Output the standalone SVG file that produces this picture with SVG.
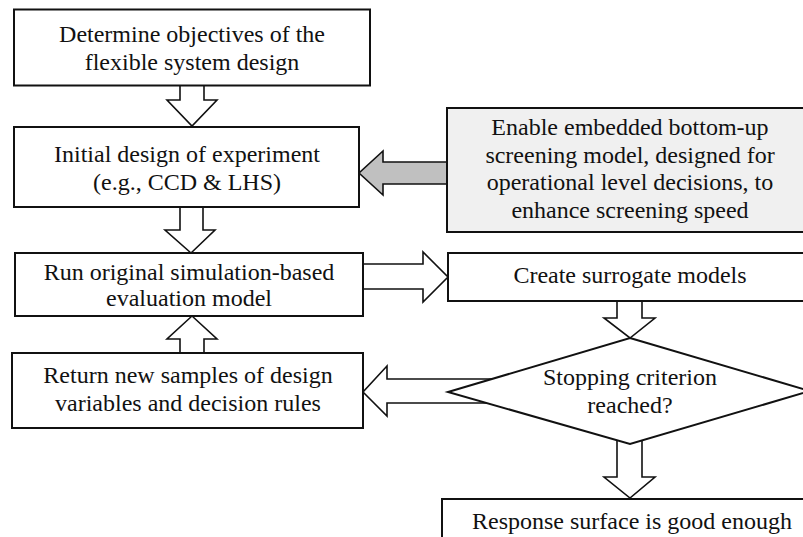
<svg xmlns="http://www.w3.org/2000/svg" width="803" height="537" viewBox="0 0 803 537">
  <style>
    .box { fill: #ffffff; stroke: #111111; stroke-width: 2; }
    .shade { fill: #f0f0f0; stroke: #111111; stroke-width: 2; }
    .arrow { fill: #ffffff; stroke: #111111; stroke-width: 1.6; stroke-linejoin: miter; }
    .garrow { fill: #c0c0c0; stroke: #111111; stroke-width: 1.6; }
    text { font-family: "Liberation Serif", "Times New Roman", serif; font-size: 24px; fill: #111111; text-anchor: middle; }
  </style>
  <rect width="803" height="537" fill="#ffffff"/>

  <!-- block arrows -->
  <g id="connectors">
    <polygon class="arrow" points="180,85 204,85 204,100 217,100 192,126 167,100 180,100"/>
    <polygon class="arrow" points="180,207 203,207 203,230 215,230 191,253 165,230 180,230"/>
    <polygon class="arrow" points="180,353 204,353 204,339 217,339 192,316 167,339 180,339"/>
    <polygon class="garrow" points="447,162 383,162 383,151 359,173 383,195 383,184 447,184"/>
    <polygon class="arrow" points="363,264 423,264 423,252 448,277 423,302 423,289 363,289"/>
    <polygon class="arrow" points="617,301 642,301 642,318 655,318 630,338 604,318 617,318"/>
    <polygon class="arrow" points="500,379 387,379 387,366 363,392 387,416 387,403 500,403"/>
    <polygon class="arrow" points="617,440 642,440 642,477 655,477 630,498 604,477 617,477"/>
  </g>

  <g id="objectives">
    <rect class="box" x="14" y="9.5" width="356" height="76"/>
    <text x="192" y="42">Determine objectives of the</text>
    <text x="192" y="69.5">flexible system design</text>
  </g>

  <g id="initial-doe">
    <rect class="box" x="14" y="127" width="345" height="80"/>
    <text x="187" y="162">Initial design of experiment</text>
    <text x="187" y="189.5">(e.g., CCD &amp; LHS)</text>
  </g>

  <g id="screening-model">
    <rect class="shade" x="447" y="108" width="370" height="124"/>
    <text x="630" y="135">Enable embedded bottom-up</text>
    <text x="630" y="162.5">screening model, designed for</text>
    <text x="630" y="190">operational level decisions, to</text>
    <text x="630" y="217.5">enhance screening speed</text>
  </g>

  <g id="run-simulation">
    <rect class="box" x="15" y="253" width="348" height="63"/>
    <text x="189" y="280">Run original simulation-based</text>
    <text x="189" y="306">evaluation model</text>
  </g>

  <g id="surrogate">
    <rect class="box" x="448" y="253" width="370" height="48"/>
    <text x="630" y="283">Create surrogate models</text>
  </g>

  <g id="stopping">
    <polygon class="box" points="630,338 810,391 630,444 448,392"/>
    <text x="630" y="385">Stopping criterion</text>
    <text x="630" y="413">reached?</text>
  </g>

  <g id="new-samples">
    <rect class="box" x="12" y="353" width="351" height="75"/>
    <text x="188" y="383">Return new samples of design</text>
    <text x="188" y="411">variables and decision rules</text>
  </g>

  <g id="response">
    <rect class="box" x="442" y="499" width="380" height="60"/>
    <text x="632" y="529">Response surface is good enough</text>
  </g>
</svg>
